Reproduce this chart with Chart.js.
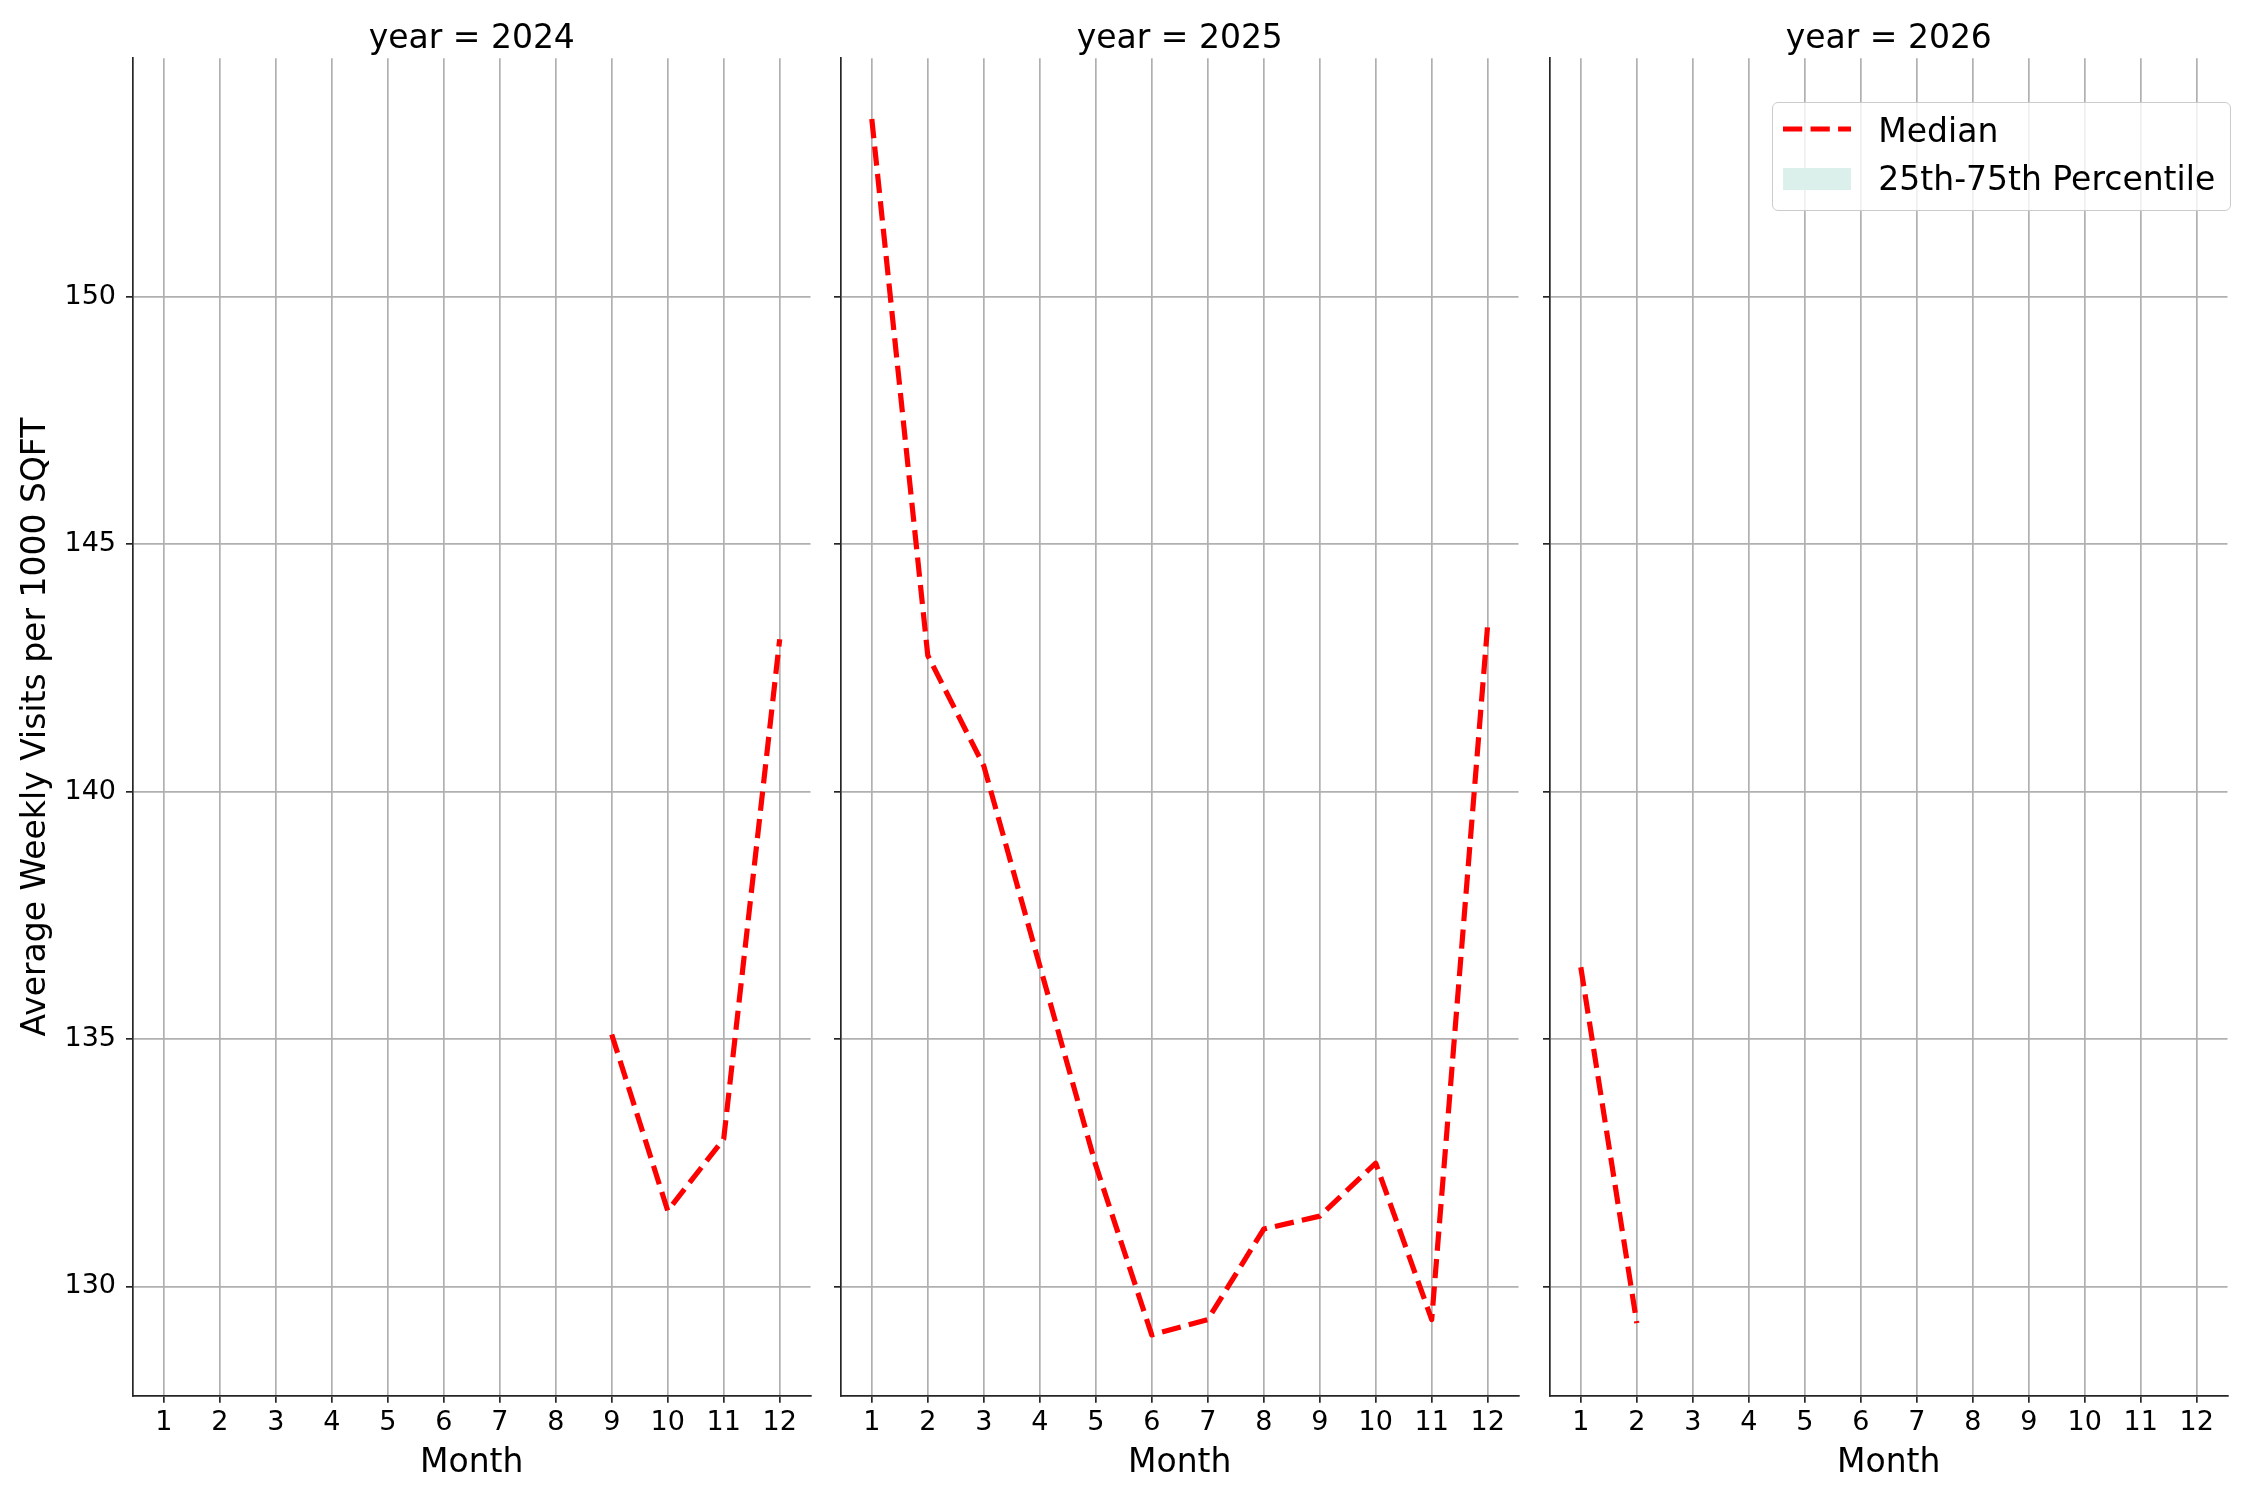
<!DOCTYPE html>
<html lang="en">
<head>
<meta charset="utf-8">
<title>Average Weekly Visits per 1000 SQFT by month</title>
<script src="https://cdn.jsdelivr.net/npm/chart.js@4.4.1/dist/chart.umd.min.js"></script>
<style>
  html, body { margin: 0; padding: 0; background: #fff; }
  #figure { position: relative; width: 2250px; height: 1500px; overflow: hidden; background: #fff; font-family: "DejaVu Sans", sans-serif; }
  #figure canvas { position: absolute; top: 0; }
  #legend {
    position: absolute; left: 1771.7px; top: 102.3px; width: 459px; height: 108.4px;
    box-sizing: border-box; border: 1.7px solid #cccccc; border-radius: 6px;
    background: rgba(255, 255, 255, 0.8);
  }
  #legend .key { position: absolute; left: 10.6px; }
  #legend span { position: absolute; left: 105.6px; font-size: 33px; line-height: 33px; color: #000; white-space: nowrap; }
</style>
</head>
<body>
<div id="figure">
  <canvas id="panel2024" width="840" height="1500" style="left:0px"></canvas>
  <canvas id="panel2025" width="740" height="1500" style="left:800px"></canvas>
  <canvas id="panel2026" width="741" height="1500" style="left:1509px"></canvas>
  <div id="legend">
    <svg class="key" style="top:20px" width="68" height="12"><line x1="0" y1="6" x2="68" y2="6" stroke="#ff0000" stroke-width="5.2" stroke-dasharray="19.25 8.3"/></svg>
    <span style="top:10.8px">Median</span>
    <div class="key" style="top:64.3px;width:67.7px;height:22.4px;background:#dcf0eb"></div>
    <span style="top:58.8px">25th-75th Percentile</span>
  </div>
</div>
<script>
// valeurs (médiane par mois)
const monthTicks = [1, 2, 3, 4, 5, 6, 7, 8, 9, 10, 11, 12];
const yTicks = [130, 135, 140, 145, 150];

const months2024 = [9, 10, 11, 12];
const median2024 = [135.09, 131.53, 132.98, 143.08];

const months2025 = [1, 2, 3, 4, 5, 6, 7, 8, 9, 10, 11, 12];
const median2025 = [153.59, 142.75, 140.52, 136.48, 132.45, 129.02, 129.33, 131.16, 131.42, 132.49, 129.33, 143.38];

const months2026 = [1, 2];
const median2026 = [136.45, 129.26];

const SPINE = '#262626';
const GRID = '#b0b0b0';
const FONT = '"DejaVu Sans", sans-serif';

// marges de 5% comme matplotlib
const allValues = [...median2024, ...median2025, ...median2026];
const yLo = Math.min(...allValues), yHi = Math.max(...allValues);
const yPad = (yHi - yLo) * 0.05;
const xPad = (monthTicks[monthTicks.length - 1] - monthTicks[0]) * 0.05;

function buildPanel(canvasId, year, months, values, first, padRight) {
    const ctx = document.getElementById(canvasId);
    return new Chart(ctx, {
        type: 'line',
        data: {
            datasets: [{
                label: 'Median',
                data: months.map((m, i) => ({ x: m, y: values[i] })),
                borderColor: '#ff0000',
                borderWidth: 5.2,
                borderDash: [19.25, 8.3],
                borderCapStyle: 'butt',
                borderJoinStyle: 'round',
                pointRadius: 0,
                tension: 0,
                fill: false
            }]
        },
        options: {
            responsive: false,
            animation: false,
            devicePixelRatio: 1,
            layout: { padding: { left: 0, right: padRight, top: 0, bottom: 0 } },
            plugins: {
                legend: { display: false },
                tooltip: { enabled: false },
                title: {
                    display: true,
                    text: 'year = ' + year,
                    fullSize: false,
                    color: '#000',
                    font: { family: FONT, size: 33, weight: 'normal', lineHeight: 1.1 },
                    padding: { top: 21.6, bottom: 0.4 }
                }
            },
            scales: {
                x: {
                    type: 'linear',
                    min: monthTicks[0] - xPad,
                    max: monthTicks[monthTicks.length - 1] + xPad,
                    afterBuildTicks: s => { s.ticks = monthTicks.map(v => ({ value: v })); },
                    afterFit: s => { s.height = 104.3; },
                    ticks: {
                        color: '#000', padding: 4, maxRotation: 0, autoSkip: false,
                        font: { family: FONT, size: 27, lineHeight: 1.2 },
                        callback: v => String(v)
                    },
                    grid: { color: GRID, lineWidth: 1.7, tickLength: 7, tickColor: SPINE, tickWidth: 1.7 },
                    border: { color: SPINE, width: 1.7 },
                    title: {
                        display: true, text: 'Month', color: '#000',
                        font: { family: FONT, size: 33, lineHeight: 1.2 },
                        padding: { top: 0, bottom: 17 }
                    }
                },
                y: {
                    type: 'linear',
                    min: yLo - yPad,
                    max: yHi + yPad,
                    afterBuildTicks: s => { s.ticks = yTicks.map(v => ({ value: v })); },
                    afterFit: s => { s.width = first ? 133 : 41; },
                    ticks: {
                        display: first, color: '#000', padding: 10,
                        font: { family: FONT, size: 27, lineHeight: 1.2 },
                        callback: v => String(v)
                    },
                    grid: { color: GRID, lineWidth: 1.7, tickLength: 7, tickColor: SPINE, tickWidth: 1.7 },
                    border: { color: SPINE, width: 1.7 },
                    title: {
                        display: first, text: 'Average Weekly Visits per 1000 SQFT', color: '#000',
                        font: { family: FONT, size: 33, lineHeight: 1.2 },
                        padding: { top: 16.7, bottom: 0 }
                    }
                }
            }
        }
    });
}

buildPanel('panel2024', '2024', months2024, median2024, true, 840 - 810.5);
buildPanel('panel2025', '2025', months2025, median2025, false, 740 - (1518.5 - 800));
buildPanel('panel2026', '2026', months2026, median2026, false, 741 - (2227.5 - 1509));
</script>
</body>
</html>
